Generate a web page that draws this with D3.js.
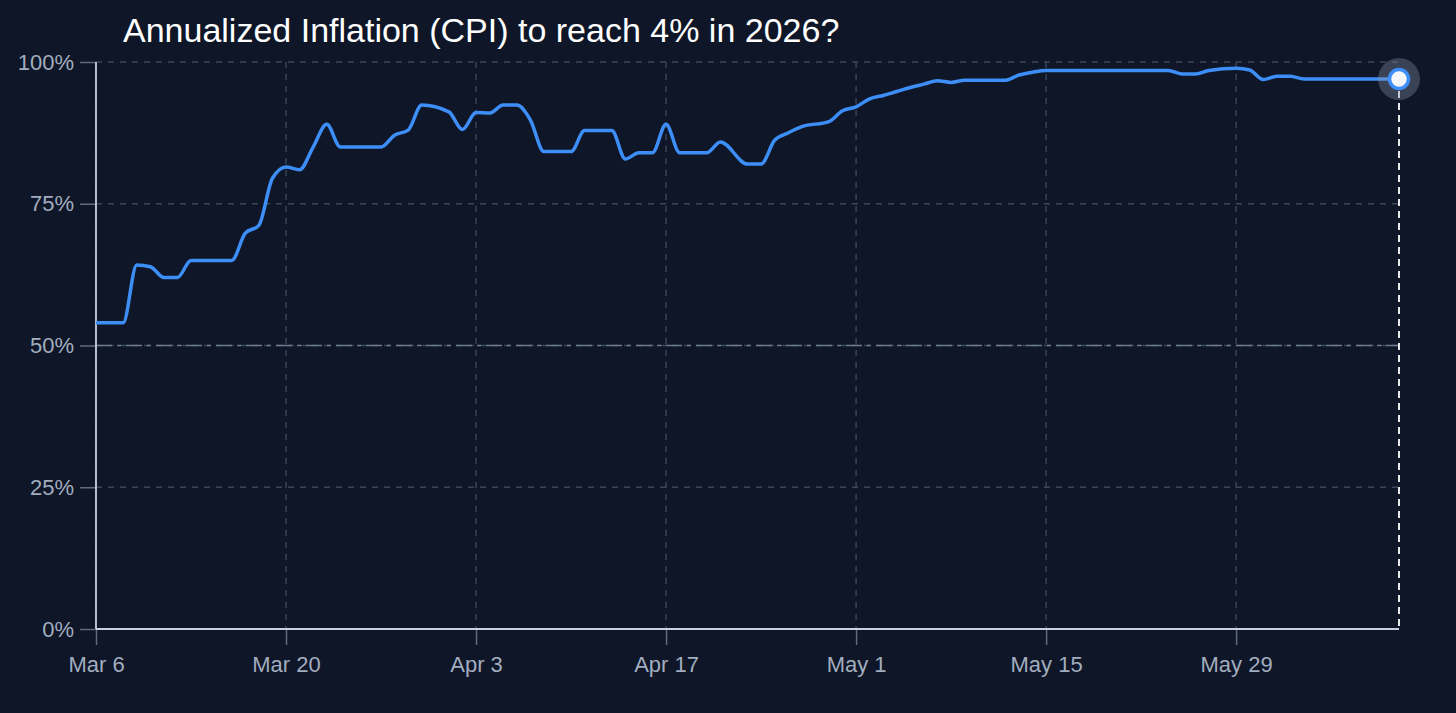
<!DOCTYPE html>
<html>
<head>
<meta charset="utf-8">
<script src="https://cdn.jsdelivr.net/npm/d3@7"></script>
<style>
  html, body { margin: 0; padding: 0; background: #0e1628; }
  svg { display: block; }
</style>
</head>
<body>
<svg id="chart" width="1456" height="713"></svg>
<script>
const title = "Annualized Inflation (CPI) to reach 4% in 2026?";
const dates = ["2026-03-06","2026-03-08","2026-03-09","2026-03-10","2026-03-11","2026-03-12","2026-03-13","2026-03-16","2026-03-17","2026-03-18","2026-03-19","2026-03-20","2026-03-21","2026-03-22","2026-03-23","2026-03-24","2026-03-27","2026-03-28","2026-03-29","2026-03-30","2026-04-01","2026-04-02","2026-04-03","2026-04-04","2026-04-05","2026-04-06","2026-04-07","2026-04-08","2026-04-10","2026-04-11","2026-04-13","2026-04-14","2026-04-15","2026-04-16","2026-04-17","2026-04-18","2026-04-20","2026-04-21","2026-04-23","2026-04-24","2026-04-25","2026-04-26","2026-04-27","2026-04-29","2026-04-30","2026-05-01","2026-05-02","2026-05-03","2026-05-04","2026-05-05","2026-05-06","2026-05-07","2026-05-08","2026-05-09","2026-05-12","2026-05-13","2026-05-14","2026-05-15","2026-05-24","2026-05-25","2026-05-26","2026-05-27","2026-05-29","2026-05-30","2026-05-31","2026-06-01","2026-06-02","2026-06-03","2026-06-10"];
const values = [54,54,64.2,63.9,62,62,65,65,69.8,71.2,79.5,81.5,81,85,89,85,85,87.1,88,92.4,91.2,88.1,91.1,91,92.4,92.4,89.8,84.2,84.2,87.9,87.9,82.9,84,84,89,84,84,85.9,82,82,86.2,87.5,88.6,89.5,91.4,92.1,93.5,94.1,94.8,95.5,96.1,96.7,96.4,96.8,96.8,97.7,98.2,98.5,98.5,97.9,97.9,98.5,98.9,98.6,96.9,97.5,97.5,97,97];
const xTickDates = ["2026-03-06","2026-03-20","2026-04-03","2026-04-17","2026-05-01","2026-05-15","2026-05-29"];
const xTickLabels = ["Mar 6","Mar 20","Apr 3","Apr 17","May 1","May 15","May 29"];
const yTicks = [0,25,50,75,100];
const yTickLabels = ["0%","25%","50%","75%","100%"];
const referenceValue = 50;

const parse = d3.utcParse("%Y-%m-%d");
const data = dates.map((d,i)=>({date: parse(d), value: values[i]}));

const svg = d3.select("#chart");
const margin = {left: 96, right: 57, top: 62, bottom: 84};
const W = 1456, H = 713;

const x = d3.scaleUtc()
  .domain(d3.extent(data, d=>d.date))
  .range([margin.left, W - margin.right]);
const y = d3.scaleLinear().domain([0,100]).range([H - margin.bottom, margin.top]);

const FONT = "'Liberation Sans', Arial, Helvetica, sans-serif";
const gridColor = "#3b475b";
const labelColor = "#a2adbf";

// horizontal grid
svg.append("g").selectAll("line").data(yTicks).join("line")
  .attr("x1", x.range()[0]).attr("x2", x.range()[1])
  .attr("y1", d=>y(d)).attr("y2", d=>y(d))
  .attr("stroke", gridColor).attr("stroke-width", 1.4)
  .attr("stroke-dasharray", "6,6");

// vertical grid
svg.append("g").selectAll("line").data(xTickDates.map(parse)).join("line")
  .attr("x1", d=>x(d)).attr("x2", d=>x(d))
  .attr("y1", y(100)).attr("y2", y(0))
  .attr("stroke", gridColor).attr("stroke-width", 1.4)
  .attr("stroke-dasharray", "6,6");

// 50% reference line
svg.append("line")
  .attr("x1", x.range()[0]).attr("x2", x.range()[1])
  .attr("y1", y(referenceValue)).attr("y2", y(referenceValue))
  .attr("stroke", "#6f7b8f").attr("stroke-width", 1.3)
  .attr("stroke-dasharray", "16,5,4,5");

// y axis
const yAxis = d3.axisLeft(y).tickValues(yTicks).tickFormat((d,i)=>yTickLabels[i]).tickSize(16).tickPadding(6);
const gy = svg.append("g").attr("transform", `translate(${margin.left},0)`).call(yAxis);
gy.select(".domain").remove();
gy.selectAll(".tick line").attr("stroke", "#5f6b7f").attr("stroke-width", 1.5);
gy.selectAll(".tick text").attr("fill", labelColor).attr("font-family", FONT).attr("font-size", 22);
svg.append("line").attr("x1", margin.left).attr("x2", margin.left)
  .attr("y1", y(100)).attr("y2", y(0))
  .attr("stroke", "#c9d1de").attr("stroke-width", 1.8);

// x axis
const xAxis = d3.axisBottom(x).tickValues(xTickDates.map(parse)).tickFormat((d,i)=>xTickLabels[i]).tickSize(16).tickPadding(11);
const gx = svg.append("g").attr("transform", `translate(0,${y(0)})`).call(xAxis);
gx.select(".domain").remove();
gx.selectAll(".tick line").attr("stroke", "#5f6b7f").attr("stroke-width", 1.5);
gx.selectAll(".tick text").attr("fill", labelColor).attr("font-family", FONT).attr("font-size", 22);
svg.append("line").attr("x1", x.range()[0]).attr("x2", x.range()[1])
  .attr("y1", y(0)).attr("y2", y(0))
  .attr("stroke", "#c9d1de").attr("stroke-width", 2);

// line
const line = d3.line().x(d=>x(d.date)).y(d=>y(d.value)).curve(d3.curveMonotoneX);
svg.append("path").datum(data)
  .attr("fill", "none").attr("stroke", "#3d8ef7").attr("stroke-width", 3.5)
  .attr("stroke-linejoin", "round").attr("d", line);

// end marker
const last = data[data.length-1];
svg.append("line")
  .attr("x1", x(last.date)).attr("x2", x(last.date))
  .attr("y1", y(last.value)).attr("y2", y(0))
  .attr("stroke", "#ffffff").attr("stroke-width", 1.8).attr("stroke-dasharray", "7,5");
svg.append("circle").attr("cx", x(last.date)).attr("cy", y(last.value)).attr("r", 21)
  .attr("fill", "rgba(140,150,170,0.35)");
svg.append("circle").attr("cx", x(last.date)).attr("cy", y(last.value)).attr("r", 9.5)
  .attr("fill", "#f4f6fa").attr("stroke", "#3d8ef7").attr("stroke-width", 3.5);

// title
svg.append("text").attr("x", 123).attr("y", 42)
  .attr("fill", "#ffffff").attr("font-family", FONT).attr("font-size", 34)
  .text(title);
</script>
</body>
</html>
